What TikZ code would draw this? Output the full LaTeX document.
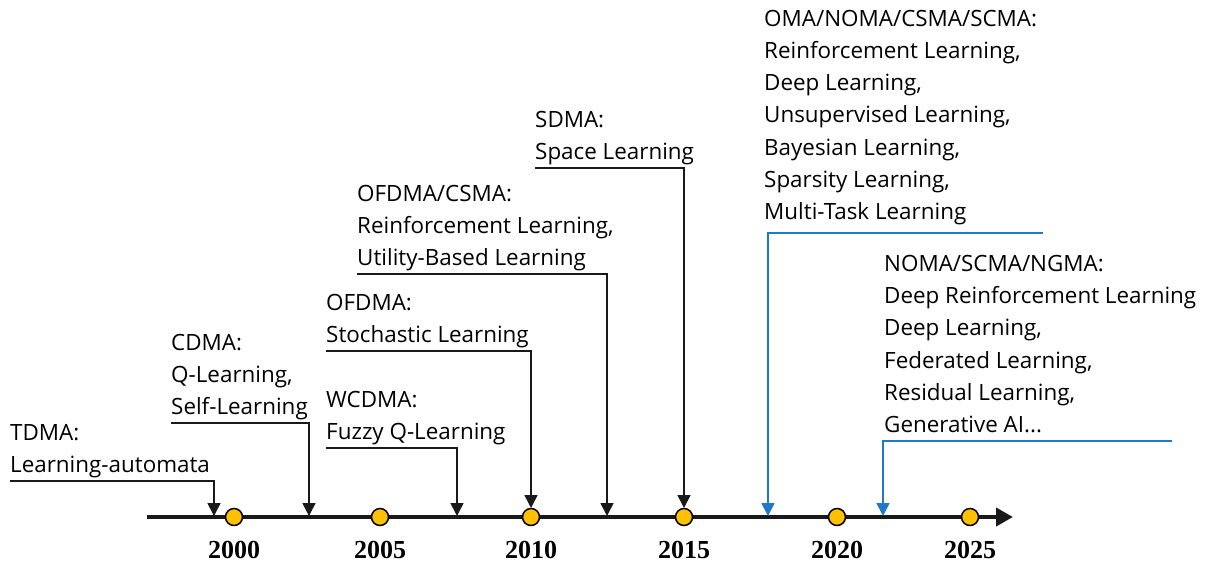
\documentclass[tikz,border=0pt]{standalone}
\usepackage{fontspec}
\setmainfont{Open Sans}
\newfontfamily\yearfont{Liberation Serif}
\usetikzlibrary{arrows.meta}
\definecolor{dotc}{HTML}{FFC000}
\definecolor{ablue}{HTML}{1F78C8}
\begin{document}
\begin{tikzpicture}[x=1pt,y=-1pt,
  lbl/.style={anchor=south west,inner sep=0pt,text depth=0pt,align=left,
    font=\fontsize{22.4}{32.3}\selectfont},
  yr/.style={anchor=base,inner sep=0pt,font=\yearfont\bfseries\fontsize{26}{26}\selectfont},
  conn/.style={draw=black!90,line width=1.6pt,-{Triangle[length=13pt,width=13pt]}},
  bconn/.style={draw=ablue,line width=1.6pt,-{Triangle[length=13pt,width=13pt]}},
  axisline/.style={draw=black!90,line width=4pt,-{Triangle[length=17pt,width=18pt]}},
  yeardot/.style={circle,fill=dotc,draw=black,line width=1.5pt,minimum size=17pt,inner sep=0pt}]
\useasboundingbox (0,0) rectangle (1206,563);

% axis
\coordinate (axs) at (147,517);
\coordinate (axe) at (1013,517);
\draw[axisline] (axs) -- (axe);

% labels
\node[lbl] (tdma) at (10,473) {TDMA:\\Learning-automata};
\node[lbl] (cdma) at (171,415) {CDMA:\\Q-Learning,\\Self-Learning};
\node[lbl] (wcdma) at (326,440) {WCDMA:\\Fuzzy Q-Learning};
\node[lbl] (ofdma) at (326,343) {OFDMA:\\Stochastic Learning};
\node[lbl] (ofcsma) at (357,266) {OFDMA/CSMA:\\Reinforcement Learning,\\Utility-Based Learning};
\node[lbl] (sdma) at (535,160) {SDMA:\\Space Learning};
\node[lbl] (oma) at (764,220) {OMA/NOMA/CSMA/SCMA:\\Reinforcement Learning,\\Deep Learning,\\Unsupervised Learning,\\Bayesian Learning,\\Sparsity Learning,\\Multi-Task Learning};
\node[lbl] (noma) at (884,433) {NOMA/SCMA/NGMA:\\Deep Reinforcement Learning\\Deep Learning,\\Federated Learning,\\Residual Learning,\\Generative AI...};

% arrow targets on the axis
\coordinate (t1) at (214,516);
\coordinate (t2) at (309,516);
\coordinate (t3) at (457,516);
\coordinate (t4) at (531,508);
\coordinate (t5) at (607,516);
\coordinate (t6) at (684,508);
\coordinate (t7) at (768,516);
\coordinate (t8) at (883,516);
\coordinate (omaR) at (1043,233);
\coordinate (nomaR) at (1172,441);

\draw[conn] ([yshift=-8pt]tdma.south west) -| (t1);
\draw[conn] ([yshift=-8pt]cdma.south west) -| (t2);
\draw[conn] ([yshift=-8pt]wcdma.south west) -| (t3);
\draw[conn] ([yshift=-8pt]ofdma.south west) -| (t4);
\draw[conn] ([yshift=-8pt]ofcsma.south west) -| (t5);
\draw[conn] ([yshift=-8pt]sdma.south west) -| (t6);
\draw[bconn] (omaR) -| (t7);
\draw[bconn] (nomaR) -| (t8);

% year dots
\node[yeardot] (d2000) at (234,517) {};
\node[yeardot] (d2005) at (380,517) {};
\node[yeardot] (d2010) at (531,517) {};
\node[yeardot] (d2015) at (684,517) {};
\node[yeardot] (d2020) at (837,517) {};
\node[yeardot] (d2025) at (970,517) {};

% years
\node[yr] (y2000) at (234,558) {2000};
\node[yr] (y2005) at (380,558) {2005};
\node[yr] (y2010) at (531,558) {2010};
\node[yr] (y2015) at (684,558) {2015};
\node[yr] (y2020) at (837,558) {2020};
\node[yr] (y2025) at (970,558) {2025};
\end{tikzpicture}
\end{document}
